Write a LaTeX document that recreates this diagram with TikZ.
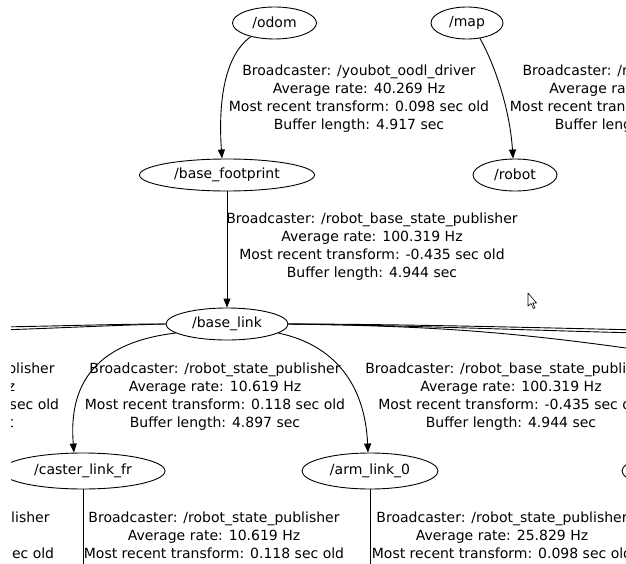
\documentclass[tikz,border=0pt]{standalone}
\usepackage{fontspec}
\setmainfont{DejaVu Sans}
\usetikzlibrary{shapes.geometric,arrows.meta}
\newcommand\tffont{\fontsize{14bp}{18.3bp}\selectfont}
\begin{document}
\begin{tikzpicture}[x=1bp,y=-1bp,line width=0.9bp,
  tfnode/.style={draw,ellipse,inner sep=0pt,font=\tffont},
  tflabel/.style={align=center,inner sep=0pt,font=\tffont,anchor=north},
  tfedge/.style={-{Triangle[length=9bp,width=7bp]}}]
\useasboundingbox (0,0) rectangle (626,564);
\fill[white] (0,0) rectangle (626,564);
\begin{scope}
\clip (11,0) rectangle (626,564);
% frames
\node[tfnode,minimum width=84bp,minimum height=32bp] (odom) at (274.5,23) {/odom};
\node[tfnode,minimum width=72bp,minimum height=32bp] (map) at (467,23) {/map};
\node[tfnode,minimum width=175bp,minimum height=32bp] (bfp) at (227,175) {/base\_footprint};
\node[tfnode,minimum width=84bp,minimum height=32bp] (robot) at (515,175) {/robot};
\node[tfnode,minimum width=122bp,minimum height=32bp] (bl) at (227,324) {/base\_link};
\node[tfnode,minimum width=164bp,minimum height=36bp] (caster) at (83,471) {/caster\_link\_fr};
\node[tfnode,minimum width=136bp,minimum height=36bp] (arm) at (370,471) {/arm\_link\_0};
\node[tfnode,minimum width=136bp,minimum height=36bp] (rnode) at (690,471) {};
% labels
\node[tflabel] (l1) at (359,64) {Broadcaster: /youbot\_oodl\_driver\\Average rate: 40.269 Hz\\Most recent transform: 0.098 sec old\\Buffer length: 4.917 sec};
\node[tflabel] (l2) at (640,64) {Broadcaster: /robot\_tf2\_publisher\\Average rate: 100.000 Hz\\Most recent transform: 0.000 sec old\\Buffer length: 0.000 sec};
\node[tflabel] (l3) at (372,212) {Broadcaster: /robot\_base\_state\_publisher\\Average rate: 100.319 Hz\\Most recent transform: -0.435 sec old\\Buffer length: 4.944 sec};
\node[tflabel] (l0) at (-71,362) {Broadcaster: /robot\_state\_publisher\\Average rate: 10.619 Hz\\Most recent transform: 0.118 sec old\\Buffer length: 4.897 sec};
\node[tflabel] (l4) at (215,362) {Broadcaster: /robot\_state\_publisher\\Average rate: 10.619 Hz\\Most recent transform: 0.118 sec old\\Buffer length: 4.897 sec};
\node[tflabel] (l5) at (511,362) {Broadcaster: /robot\_base\_state\_publisher\\Average rate: 100.319 Hz\\Most recent transform: -0.435 sec old\\Buffer length: 4.944 sec};
\node[tflabel] (l6a) at (-76,511) {Broadcaster: /robot\_state\_publisher\\Average rate: 10.619 Hz\\Most recent transform: 0.118 sec old};
\node[tflabel] (l6) at (214,511) {Broadcaster: /robot\_state\_publisher\\Average rate: 10.619 Hz\\Most recent transform: 0.118 sec old};
\node[tflabel] (l7) at (502,511) {Broadcaster: /robot\_state\_publisher\\Average rate: 25.829 Hz\\Most recent transform: 0.098 sec old};
% free ends
\coordinate (w1) at (0,327);
\coordinate (w2) at (0,330);
\coordinate (e1) at (640,330);
\coordinate (e2) at (640,333);
\coordinate (e3) at (640,350);
\coordinate (cdown) at (83,580);
\coordinate (adown) at (370,580);
% connectors
\draw[tfedge] (odom.210) .. controls (225,55) and (218,100) .. ([xshift=-5bp]bfp.north);
\draw[tfedge] (map.-50) .. controls (495,65) and (510,110) .. ([xshift=-2bp]robot.north);
\draw[tfedge] (bfp.south) -- (bl.north);
\draw[tfedge] (bl.190) .. controls (100,342) and (68,380) .. ([xshift=-9bp]caster.north);
\draw[tfedge] (bl.-10) .. controls (335,345) and (365,385) .. ([xshift=-2bp]arm.north);
\draw (bl.west) .. controls (120,324) and (60,326) .. (w1);
\draw (bl.west) .. controls (120,325) and (60,328) .. (w2);
\draw (bl.east) .. controls (400,324) and (550,328) .. (e1);
\draw (bl.east) .. controls (400,325) and (550,331) .. (e2);
\draw (bl.east) .. controls (420,326) and (500,330) .. (e3);
\draw (caster.south) -- (cdown);
\draw (arm.south) -- (adown);
% mouse pointer
\draw[line width=0.6bp,fill=white,line join=round] (528,293) -- (528,306) -- (531,303.5) -- (533.5,308.5) -- (535,307.8) -- (532.7,303) -- (536.5,303) -- cycle;
\end{scope}
\end{tikzpicture}
\end{document}
